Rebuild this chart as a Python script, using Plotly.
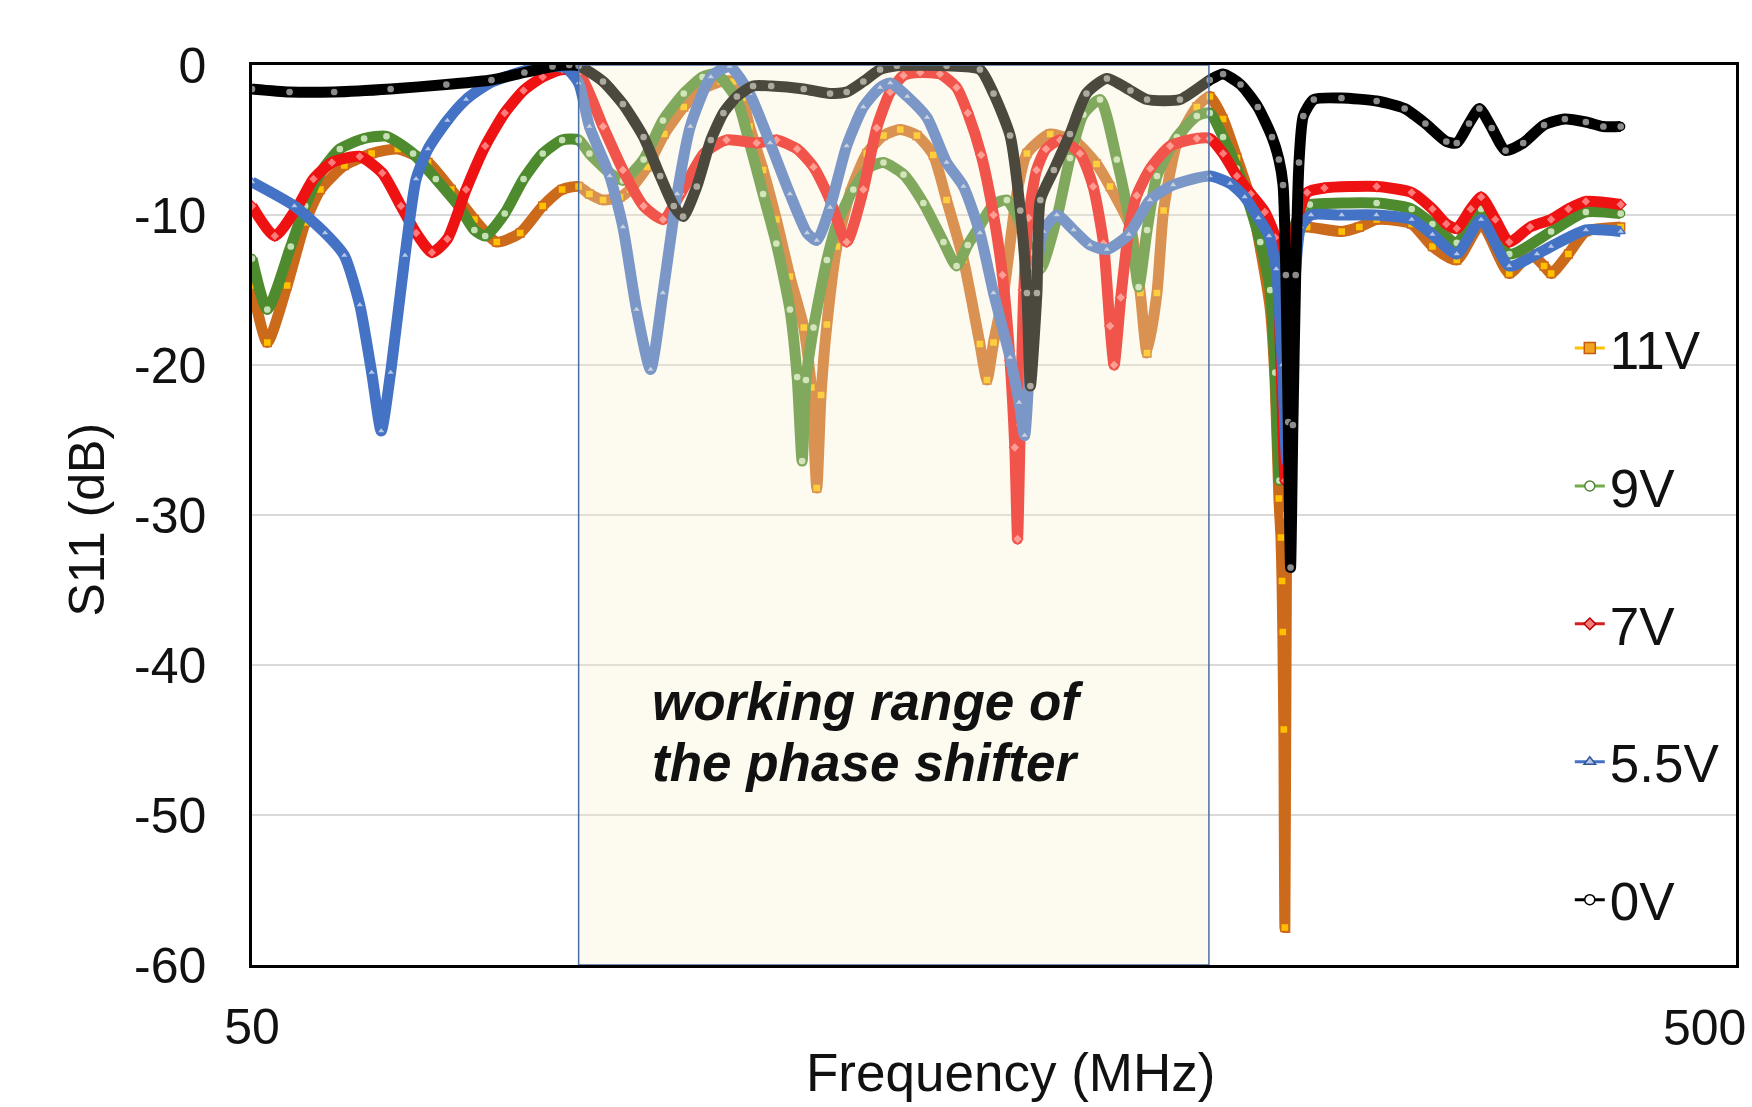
import math
import plotly.graph_objects as go

# ---------------- data ----------------
series_names = ["11V", "9V", "7V", "5.5V", "0V"]

freq_11v = [50.0, 51.2, 52.8, 54.3, 55.6, 57.7, 60.2, 62.7, 65.7, 68.1, 70.6, 73.1, 75.8, 78.5, 80.9,
            83.0, 84.4, 86.2, 88.5, 89.9, 92.3, 94.8, 97.7, 100.6, 103.5, 105.5, 107.0, 108.2, 110.5,
            112.8, 115.2, 117.7, 119.1, 120.1, 120.9, 122.0, 123.9, 126.5, 129.8, 133.2, 136.7, 140.3,
            143.9, 146.9, 150.8, 154.7, 156.4, 158.0, 160.5, 163.8, 166.4, 172.5, 179.8, 185.4, 189.3,
            195.4, 198.4, 200.5, 203.6, 205.7, 210.0, 216.6, 221.0, 225.6, 230.5, 235.5, 239.0, 242.7,
            244.6, 246.0, 246.8, 247.2, 247.5, 247.9, 248.3, 249.0, 249.8, 251.4, 253.6, 257.0, 271.2,
            278.7, 286.3, 302.3, 312.2, 324.2, 336.7, 351.7, 363.3, 371.2, 375.3, 385.5, 396.1, 418.1]
s11_11v = [-14.7, -18.5, -14.7, -10.5, -8.3, -6.7, -5.9, -5.6, -6.5, -8.3, -10.3, -11.8, -11.2, -9.4, -8.3,
           -8.1, -8.6, -9.0, -8.8, -8.3, -6.8, -4.6, -2.8, -1.6, -1.1, -1.1, -2.2, -4.1, -7.0,
           -10.3, -14.1, -17.5, -21.5, -28.2, -22.0, -17.3, -12.1, -8.5, -5.9, -4.7, -4.3, -4.7,
           -6.0, -9.0, -13.0, -18.6, -21.0, -18.5, -15.2, -8.6, -5.9, -4.6, -5.2, -6.6, -8.1,
           -10.8, -15.2, -19.2, -15.2, -9.7, -5.2, -2.8, -2.1, -3.6, -6.2, -9.0, -12.2, -16.2,
           -21.3, -28.9, -31.5, -34.4, -37.8, -44.3, -57.5, -30.0, -18.0, -12.0, -10.9, -10.8, -11.1,
           -10.8, -10.3, -10.6, -12.1, -13.0, -10.6, -13.9, -12.6, -13.4, -13.9, -12.6, -11.1, -10.8]

freq_9v = [50.0, 51.2, 53.1, 54.3, 55.6, 57.3, 59.5, 61.6, 64.2, 66.5, 68.9, 70.6, 71.8, 74.0, 76.2,
           78.5, 80.9, 83.0, 84.4, 87.1, 88.9, 91.8, 94.6, 97.7, 100.6, 102.8, 106.1, 108.2, 110.5,
           112.8, 115.2, 116.5, 117.4, 118.1, 119.5, 122.0, 123.9, 127.1, 130.4, 133.2, 137.4, 141.7,
           146.2, 149.2, 151.8, 154.7, 158.0, 161.3, 164.7, 167.3, 169.9, 174.3, 177.9, 181.6, 186.4,
           191.3, 195.4, 197.9, 200.5, 203.6, 210.0, 216.6, 221.0, 225.6, 230.5, 235.5, 239.0, 242.7,
           244.6, 246.2, 248.0, 251.4, 255.5, 258.1, 286.3, 302.3, 312.2, 324.2, 336.7, 351.7, 375.3,
           396.1, 418.1]
s11_9v = [-12.9, -16.3, -12.1, -9.4, -7.2, -5.6, -4.9, -4.75, -5.9, -7.6, -9.4, -11.0, -11.4, -9.9, -7.6,
          -5.9, -5.0, -5.0, -5.9, -7.2, -7.7, -6.3, -3.7, -1.9, -0.8, -0.6, -2.3, -5.2, -8.6,
          -11.9, -16.3, -20.8, -26.4, -21.0, -17.5, -13.0, -10.6, -8.3, -6.8, -6.5, -7.3, -9.2,
          -11.8, -13.4, -12.0, -10.7, -9.3, -9.0, -10.5, -12.5, -13.6, -10.2, -6.2, -3.3, -2.3,
          -6.3, -10.8, -14.8, -11.0, -7.4, -4.8, -3.4, -3.2, -4.8, -6.9, -9.6, -11.8, -15.0,
          -20.5, -27.7, -18.7, -11.1, -9.5, -9.3, -9.2, -9.6, -10.6, -11.85, -9.6, -12.6, -11.1,
          -9.8, -9.9]

freq_7v = [50.0, 51.8, 53.7, 55.0, 56.6, 59.1, 61.2, 63.0, 64.5, 66.1, 67.7, 69.7, 71.8, 74.0, 76.2,
           78.5, 80.9, 83.0, 86.2, 88.9, 91.8, 94.6, 97.2, 100.8, 104.4, 109.4, 112.8, 116.5, 119.5,
           122.6, 125.8, 129.1, 131.8, 134.6, 137.4, 141.0, 145.4, 149.2, 151.8, 155.0, 158.0, 160.2,
           162.1, 163.3, 164.0, 164.7, 165.6, 166.8, 168.9, 171.4, 175.2, 180.7, 184.4, 187.4, 189.3,
           190.5, 192.5, 194.9, 197.3, 201.5, 207.8, 216.6, 221.0, 225.6, 230.5, 235.5, 240.7, 244.6,
           246.6, 248.4, 250.1, 252.8, 257.0, 264.0, 286.3, 302.3, 312.2, 319.0, 324.2, 331.3, 336.7,
           344.2, 351.7, 363.3, 375.3, 385.5, 396.1, 418.1]
s11_7v = [-9.4, -11.4, -9.4, -7.6, -6.5, -6.1, -7.2, -9.4, -11.2, -12.5, -11.6, -8.3, -5.4, -3.2, -1.7,
          -0.8, -0.3, -0.5, -4.1, -7.0, -9.4, -10.3, -8.6, -5.9, -5.0, -5.2, -5.0, -5.6, -6.8,
          -9.0, -11.8, -8.3, -4.2, -1.8, -0.7, -0.5, -0.6, -1.5, -3.2, -6.0, -10.0, -14.0,
          -19.7, -25.5, -31.6, -24.0, -15.0, -10.2, -7.0, -5.6, -5.0, -5.9, -8.1, -11.9, -17.4,
          -20.0, -15.5, -11.0, -8.7, -6.9, -5.4, -4.9, -4.9, -5.9, -7.4, -8.6, -9.8, -11.5,
          -19.0, -27.7, -18.7, -10.5, -8.5, -8.2, -8.1, -8.5, -9.6, -10.6, -10.9, -9.6, -8.8,
          -10.3, -11.8, -10.8, -10.3, -9.6, -9.1, -9.3]

freq_5v5 = [50.0, 53.4, 56.0, 57.7, 59.1, 60.2, 61.1, 62.0, 63.4, 64.5, 65.7, 67.7, 69.7, 72.3, 76.2,
            79.9, 81.4, 83.0, 84.4, 87.1, 88.9, 90.8, 92.8, 94.6, 96.7, 98.7, 101.9, 104.9, 108.2,
            111.7, 115.2, 118.3, 120.1, 122.6, 125.8, 129.1, 132.5, 134.6, 138.2, 142.5, 146.9, 150.8,
            154.7, 158.0, 162.1, 164.4, 165.8, 167.3, 168.9, 170.7, 174.3, 178.9, 183.5, 188.4, 194.9,
            201.4, 208.8, 221.0, 228.1, 233.3, 238.3, 242.3, 245.0, 247.3, 249.0, 250.8, 254.5, 258.6,
            271.2, 286.2, 302.3, 312.2, 324.2, 336.7, 351.7, 367.2, 375.3, 396.1, 418.1]
s11_5v5 = [-7.8, -9.4, -11.2, -12.7, -16.0, -20.5, -24.4, -20.5, -12.7, -7.6, -5.6, -3.7, -2.3, -1.2, -0.4,
           -0.1, -0.2, -1.2, -4.1, -7.4, -10.8, -16.3, -20.3, -15.2, -8.6, -4.1, -0.8, -0.1, -1.9,
           -5.2, -8.6, -11.2, -11.7, -9.5, -5.4, -2.8, -1.5, -1.2, -2.1, -3.5, -6.5, -8.1,
           -11.2, -15.2, -19.5, -22.5, -24.7, -19.0, -13.7, -11.1, -10.0, -11.0, -12.0, -12.3, -11.3,
           -9.0, -8.0, -7.4, -7.9, -8.8, -10.2, -11.4, -13.6, -20.0, -26.4, -18.7, -10.8, -10.0,
           -10.0, -10.0, -10.3, -11.3, -12.6, -10.3, -13.4, -12.6, -12.1, -11.0, -11.1]

freq_0v = [50.0, 53.0, 56.8, 62.0, 67.6, 72.5, 76.3, 79.7, 81.8, 83.0, 86.2, 88.9, 91.8, 94.2, 96.2,
           97.6, 99.7, 101.9, 103.9, 106.1, 108.8, 111.9, 117.7, 122.6, 125.8, 129.1, 132.5, 136.0,
           146.9, 154.7, 158.0, 162.1, 164.7, 166.4, 167.3, 169.0, 169.9, 173.5, 177.9, 182.5, 188.4,
           195.4, 200.5, 211.0, 221.0, 225.6, 231.8, 238.1, 243.4, 246.0, 247.6, 248.7, 249.6, 250.5,
           251.4, 252.5, 253.8, 255.5, 259.7, 271.1, 286.3, 299.0, 308.8, 319.0, 324.2, 330.4, 335.8,
           342.3, 349.7, 359.4, 371.2, 383.4, 396.1, 407.0, 418.1]
s11_0v = [-1.6, -1.8, -1.8, -1.6, -1.3, -1.0, -0.5, -0.1, 0.0, -0.05, -1.1, -2.6, -4.8, -7.4, -9.4,
          -10.1, -8.1, -5.0, -3.2, -2.1, -1.4, -1.4, -1.6, -1.9, -1.8, -1.1, -0.3, -0.05,
          -0.05, -0.3, -1.9, -4.7, -9.7, -15.2, -21.4, -15.2, -9.0, -7.0, -4.6, -1.9, -0.9,
          -1.7, -2.3, -2.3, -1.0, -0.6, -1.3, -2.8, -4.8, -6.3, -8.0, -14.0, -23.8, -33.5,
          -24.0, -14.0, -6.5, -3.4, -2.3, -2.2, -2.4, -2.9, -3.9, -5.1, -5.2, -3.9, -2.9,
          -4.2, -5.7, -5.2, -4.0, -3.6, -3.8, -4.1, -4.1]

working_range_mhz = [83.0, 220.7]
x_limits = [50, 500]
y_ticks = [-60, -50, -40, -30, -20, -10, 0]
y_tick_text = ["-60", "-50", "-40", "-30", "-20", "-10", "0"]
x_ticks = [50, 500]
x_tick_text = ["50", "500"]

# ---------------- styles ----------------
FONT = "Liberation Sans, Arial, Helvetica, sans-serif"
TXT = "#111111"
styles = {
    "11V": dict(band="#CC6A1C", fill="#FFC000", symbol="square", leg_line="#FFC000",
                leg_fill="#F2A51F", leg_edge="#C55A11", leg_size=11),
    "9V": dict(band="#4E8B2E", fill="#C5E0B4", symbol="circle", leg_line="#70AD47",
               leg_fill="#FFFFFF", leg_edge="#548235", leg_size=10),
    "7V": dict(band="#EE1212", fill="#FF7A7A", symbol="diamond", leg_line="#D42020",
               leg_fill="#F08080", leg_edge="#C00000", leg_size=9),
    "5.5V": dict(band="#4472C4", fill="#B4C7E7", symbol="triangle-up", leg_line="#4472C4",
                 leg_fill="#B4C7E7", leg_edge="#2F5597", leg_size=10),
    "0V": dict(band="#000000", fill="#8C8C8C", symbol="circle", leg_line="#000000",
               leg_fill="#FFFFFF", leg_edge="#000000", leg_size=10),
}
data = {
    "11V": (freq_11v, s11_11v),
    "9V": (freq_9v, s11_9v),
    "7V": (freq_7v, s11_7v),
    "5.5V": (freq_5v5, s11_5v5),
    "0V": (freq_0v, s11_0v),
}

fig = go.Figure()

# data traces (first series at the bottom, 0V on top)
for name in series_names:
    st = styles[name]
    fx, fy = data[name]
    fig.add_trace(go.Scatter(
        x=fx, y=fy, mode="lines+markers", name=name, legendgroup=name, showlegend=False,
        line=dict(color=st["band"], width=11, shape="spline", smoothing=0.6),
        marker=dict(symbol=st["symbol"], size=8, color=st["fill"],
                    line=dict(color=st["band"], width=1.3)),
        hoverinfo="x+y+name",
    ))

# legend entries (thin line + marker, as in the reference)
for name in series_names:
    st = styles[name]
    fig.add_trace(go.Scatter(
        x=[None], y=[None], mode="lines+markers", name=name, legendgroup=name, showlegend=True,
        line=dict(color=st["leg_line"], width=3),
        marker=dict(symbol=st["symbol"], size=st["leg_size"], color=st["leg_fill"],
                    line=dict(color=st["leg_edge"], width=1.5)),
    ))

# shaded working range (semi-transparent, on top of the curves)
fig.add_shape(type="rect", xref="x", yref="y",
              x0=working_range_mhz[0], x1=working_range_mhz[1], y0=-60, y1=0,
              fillcolor="rgba(248,238,205,0.30)",
              line=dict(color="#4A6FA5", width=1.5), layer="above")

for txt, yv in [("working range of", -42.4), ("the phase shifter", -46.5)]:
    fig.add_annotation(
        xref="paper", yref="y", x=0.268, y=yv, xanchor="left", yanchor="middle",
        text="<b><i>" + txt + "</i></b>", showarrow=False, align="left",
        font=dict(family=FONT, size=53, color=TXT),
    )

# axis titles placed as in the reference
fig.add_annotation(xref="paper", yref="paper", x=0.511, y=-0.1196, xanchor="center", yanchor="middle",
                   text="Frequency (MHz)", showarrow=False, font=dict(family=FONT, size=53, color=TXT))
fig.add_annotation(xref="paper", yref="paper", x=-0.1112, y=0.495, xanchor="center", yanchor="middle",
                   text="S11 (dB)", textangle=-90, showarrow=False,
                   font=dict(family=FONT, size=50, color=TXT))

# right-hand x tick label: pulled slightly inward so it stays fully on the page
fig.add_annotation(xref="paper", yref="paper", x=1.0, y=-0.07, xanchor="right", yanchor="middle",
                   xshift=12, text=x_tick_text[1], showarrow=False,
                   font=dict(family=FONT, size=50, color=TXT))

fig.update_layout(
    width=1752, height=1107,
    margin=dict(l=252, r=16, t=65, b=142, autoexpand=False),
    paper_bgcolor="white", plot_bgcolor="white",
    font=dict(family=FONT, color=TXT),
    showlegend=True,
    legend=dict(
        x=0.888, y=0.731, xanchor="left", yanchor="top",
        font=dict(family=FONT, size=53, color=TXT),
        bgcolor="rgba(255,255,255,0)", tracegroupgap=66, itemwidth=30,
    ),
)

fig.update_xaxes(
    type="log", range=[math.log10(x_limits[0]) - 1e-6, math.log10(x_limits[1]) + 1e-6],
    tickvals=x_ticks, ticktext=[x_tick_text[0], ""], showgrid=False, zeroline=False,
    showline=True, linecolor="#000000", linewidth=2.5, mirror=True, ticks="",
    tickfont=dict(family=FONT, size=50, color=TXT), ticklabelstandoff=16,
    automargin=False,
)
fig.update_yaxes(
    range=[-60, 0], tickvals=y_ticks, ticktext=y_tick_text,
    showgrid=True, gridcolor="#D9D9D9", gridwidth=1.5, zeroline=False,
    showline=True, linecolor="#000000", linewidth=2.5, mirror=True, ticks="",
    tickfont=dict(family=FONT, size=50, color=TXT), ticklabelstandoff=33, automargin=False,
)

fig.write_html("out.html", config={"displayModeBar": False},
               post_script="document.body.style.margin='0';document.body.style.overflow='hidden';")
